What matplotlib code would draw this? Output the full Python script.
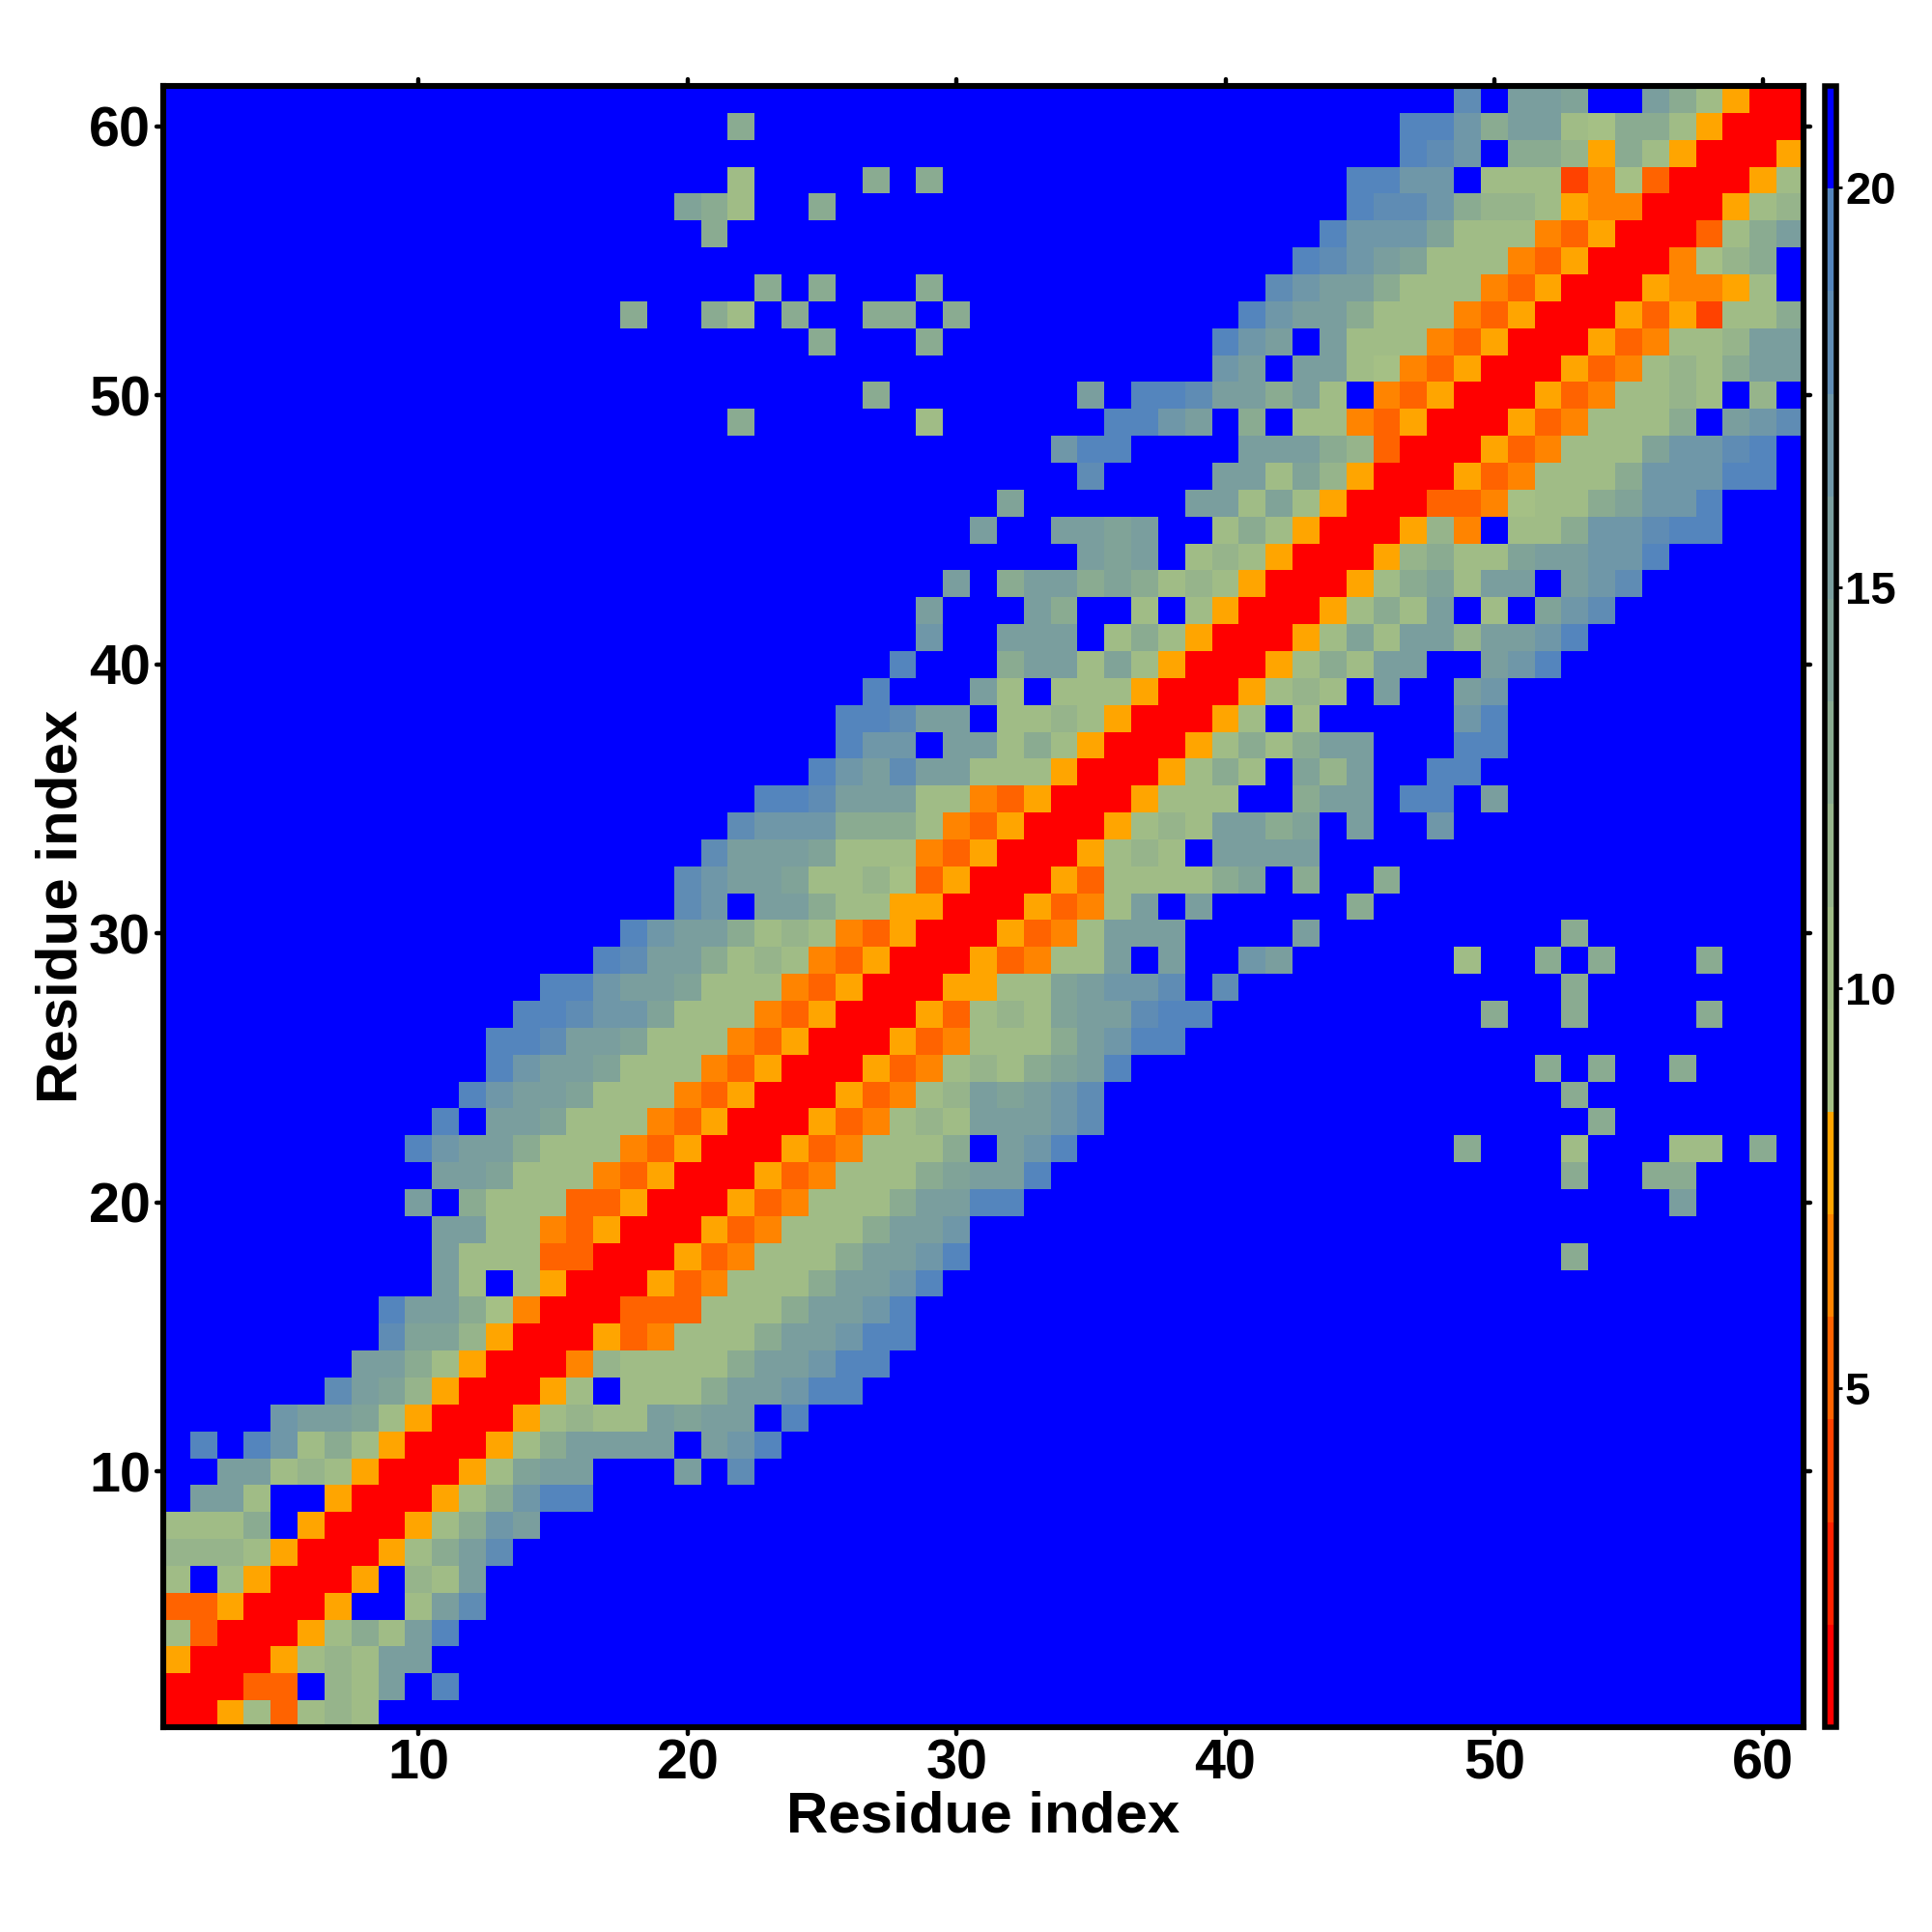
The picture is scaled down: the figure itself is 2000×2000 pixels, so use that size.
import numpy as np
import matplotlib
matplotlib.use('Agg')
import matplotlib.pyplot as plt
from matplotlib.colors import ListedColormap, Normalize
from matplotlib.markers import MarkerStyle, TICKLEFT, TICKRIGHT, TICKUP, TICKDOWN

plt.rcParams['font.family'] = ['Liberation Sans', 'DejaVu Sans']
plt.rcParams['font.weight'] = 'bold'

# Contact map. Key is the row (y residue), each entry is
# (first column, one hex digit per cell = colour bin). Anything not listed, and 'f', is blue.
contacts = {
    1: [(1, "00573787")],
    2: [(1, "00033f87bfe")],
    3: [(1, "50005787bb")],
    4: [(1, "730005797be")],
    5: [(1, "3350005ff7bd")],
    6: [(1, "7f750005f87b")],
    7: [(1, "88875000579bd")],
    8: [(1, "7779f5000579cb")],
    9: [(2, "bb7ff5000579cee")],
    10: [(3, "bb787500057abbfffbfd")],
    11: [(2, "efec7975000579bbbbfbce")],
    12: [(5, "cbba7500057877babbfe")],
    13: [(7, "dba8500057f7779bbcee")],
    14: [(8, "bb9750004877779bbcee")],
    15: [(9, "daa850005347779bbcee")],
    16: [(9, "ebb9640003337779bbce")],
    17: [(11, "b7f750005347779bbce")],
    18: [(11, "b777330005347779bbce"), (53, "9")],
    19: [(11, "bb774350005347779bbc")],
    20: [(10, "bf97773350005347779bbee"), (57, "b")],
    21: [(11, "bba7774350005347779abbe"), (53, "9"), (56, "99")],
    22: [(10, "ecbb97774350005347779fbce"), (49, "9"), (53, "7"), (57, "77"), (60, "9")],
    23: [(11, "efbba777435000534787bbbcd"), (54, "9")],
    24: [(12, "ecbba77743500053478babcd"), (53, "9")],
    25: [(13, "ecbba7774350005347879abe"), (52, "9f9"), (57, "9")],
    26: [(13, "eedbba7774350005347779bcee")],
    27: [(14, "eedcca77743500053787abbdee"), (50, "9"), (53, "9"), (58, "9")],
    28: [(15, "eecbba7774350005577abccdfd"), (53, "9")],
    29: [(17, "edbb978743500053477bfbffcb"), (49, "7"), (52, "9f9"), (58, "9")],
    30: [(18, "ecbb97874350005347bbb"), (43, "b"), (53, "9")],
    31: [(20, "dcfbb977550005347bfb"), (45, "9")],
    32: [(20, "dcbba7786350005377779af9"), (46, "9")],
    33: [(21, "dbbba7774350005787fbbbb")],
    34: [(22, "dccc99974350005787bb9afb"), (48, "c")],
    35: [(23, "eedbbb774350005777ff9bbfeefb")],
    36: [(25, "ecbdbb77750005797fa8bffee")],
    37: [(26, "eccfbb797500057979bbfffee")],
    38: [(26, "eedbbf7787500057f7"), (49, "ce")],
    39: [(27, "e"), (31, "b7f77750005787fb"), (49, "bc")],
    40: [(28, "e"), (32, "9bb7a750005797bbffbce")],
    41: [(29, "c"), (32, "bbbf797500057a7bb8bbce")],
    42: [(29, "b"), (33, "b9ff7f750005797bf7facd")],
    43: [(30, "b"), (32, "9bb9a97875000579a7bbfbcd")],
    44: [(35, "babf787500058977abbcce")],
    45: [(31, "b"), (34, "bbabff7975000584f779ccdee")],
    46: [(32, "a"), (39, "bb7a750003346779acce")],
    47: [(35, "d"), (40, "bb7a850005347779cccee")],
    48: [(34, "cee"), (41, "bbb983000534777accde")],
    49: [(22, "9"), (29, "7"), (36, "eecbf9f774350005347779fbcd")],
    50: [(27, "9"), (35, "bfeedbb9b7f4350005347787f8f")],
    51: [(40, "cbfbb764350005347879bb")],
    52: [(25, "9"), (29, "9"), (40, "ecbfb777435000534778bb")],
    53: [(18, "9"), (21, "97"), (24, "9"), (27, "99"), (30, "9"), (41, "ecbb97774350005352779")],
    54: [(23, "9"), (25, "9"), (29, "9"), (42, "dcbb977743500054457")],
    55: [(43, "edcba7774350004689")],
    56: [(21, "9"), (44, "eccca777435000379b")],
    57: [(20, "a97"), (25, "9"), (45, "eddc9887544000578")],
    58: [(22, "7"), (27, "9"), (29, "9"), (45, "eeccf777246300057")],
    59: [(47, "edcf99859750005")],
    60: [(22, "9"), (47, "eec9bb769975000")],
    61: [(49, "dfbbaffb97500")],
}

n_res = 61
z_min, z_max = 0.76, 21.27
bin_colors = ['#ff0000', '#ff2100', '#ff4200', '#ff6300', '#ff8400', '#ffa500',
              '#a5c085', '#a0bc86', '#96b48b', '#8aab91', '#80a398', '#7a9e9e',
              '#6f97a8', '#5f8cb4', '#5485bd', '#0000ff']
res_ticks = [10, 20, 30, 40, 50, 60]
cbar_ticks = [5, 10, 15, 20]

# Turn colour bins back into values on the colour bar scale.
bin_width = (z_max - z_min) / len(bin_colors)
values = np.full((n_res, n_res), z_max - bin_width / 2)
for row, segments in contacts.items():
    for first, cells in segments:
        for k, c in enumerate(cells):
            values[row - 1, first - 1 + k] = z_min + (int(c, 16) + 0.5) * bin_width

cmap = ListedColormap(bin_colors)
norm = Normalize(z_min, z_max)


def round_ticks(axis, marker1, marker2):
    # tick marks in the original have round ends
    for tick in axis.get_major_ticks():
        tick.tick1line.set_marker(MarkerStyle(marker1, capstyle='round'))
        tick.tick2line.set_marker(MarkerStyle(marker2, capstyle='round'))


fig = plt.figure(figsize=(10, 10), dpi=200)
ax = fig.add_axes([169 / 2000, 1 - 1788 / 2000, 1698 / 2000, 1699 / 2000])
im = ax.imshow(values, origin='lower', extent=(0.5, 61.5, 0.5, 61.5), aspect='auto',
               cmap=cmap, norm=norm, interpolation='nearest')

ax.set_xticks(res_ticks)
ax.set_yticks(res_ticks)
ax.tick_params(direction='out', length=2.5, width=1.6, top=True, right=True, labelsize=20.7)
ax.tick_params(axis='x', pad=1.8)
ax.tick_params(axis='y', pad=2.2)
round_ticks(ax.xaxis, TICKDOWN, TICKUP)
round_ticks(ax.yaxis, TICKLEFT, TICKRIGHT)
ax.set_xlabel('Residue index', fontsize=21.6, fontweight='bold', labelpad=0)
ax.set_ylabel('Residue index', fontsize=21.6, fontweight='bold', labelpad=0)
for spine in ax.spines.values():
    spine.set_linewidth(2.2)

cax = fig.add_axes([1889 / 2000, 1 - 1788 / 2000, 12 / 2000, 1699 / 2000])
cbar = fig.colorbar(im, cax=cax, ticks=cbar_ticks)
cbar.outline.set_linewidth(2.0)
cax.tick_params(direction='out', length=2.0, width=1.0, labelsize=17, pad=1.2)

fig.savefig('out.png', dpi=200)
